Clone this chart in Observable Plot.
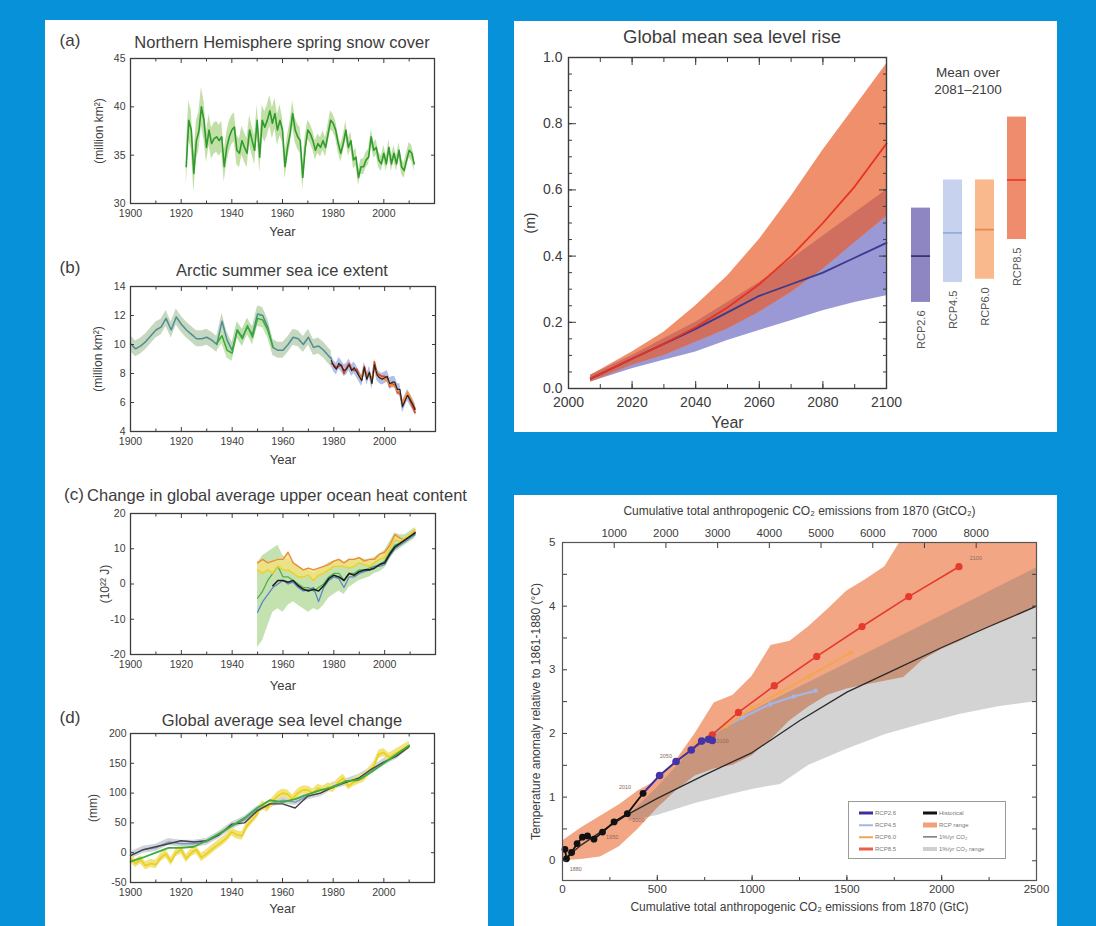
<!DOCTYPE html>
<html><head><meta charset="utf-8">
<script src="https://cdn.jsdelivr.net/npm/d3@7"></script>
<script src="https://cdn.jsdelivr.net/npm/@observablehq/plot@0.6"></script>
<style>
html,body{margin:0;padding:0;}
body{width:1096px;height:926px;background:#0791d9;position:relative;overflow:hidden;font-family:"Liberation Sans",Arial,Helvetica,sans-serif;color:#3c3c3c;}
.panel{position:absolute;background:#fff;}
.t{position:absolute;white-space:nowrap;transform:translate(-50%,-50%);line-height:1;}
.legend{position:absolute;left:848px;top:801px;width:156px;height:56px;border:1px solid #9a9a9a;background:#fff;}
.lg{position:absolute;font-size:6px;color:#777;white-space:nowrap;line-height:1;transform:translate(0,-50%);}
.sw{position:absolute;transform:translate(0,-50%);}
</style></head><body>
<div class="panel" style="left:45px;top:20px;width:443px;height:906px"></div>
<div class="panel" style="left:514px;top:21px;width:543px;height:411px"></div>
<div class="panel" style="left:514px;top:495px;width:543px;height:431px"></div>
<script>
// ---------------- DATA ----------------
// (a) Northern Hemisphere spring snow cover (million km2), 1922-2012
const snowStartYear = 1922;
const snowCover = [
  33.8, 38.6, 37.6, 33.1, 36.5, 37.5, 40.0, 38.6,
  35.8, 37.6, 36.2, 36.7, 36.9, 36.5, 36.9, 33.8, 35.8, 36.9,
  37.6, 37.9, 35.5, 35.2, 36.5, 35.8, 35.2, 37.6, 36.5, 35.5,
  38.6, 34.8, 38.6, 37.9, 38.6, 39.6, 38.3, 39.3, 37.6, 38.6,
  37.6, 33.8, 35.8, 37.2, 39.3, 37.6, 36.9, 36.5, 32.7, 35.8,
  37.6, 37.2, 36.5, 35.5, 36.2, 35.8, 36.5, 35.8, 37.2, 38.6,
  38.3, 37.6, 36.2, 35.2, 36.2, 37.6, 35.8, 36.5, 34.5, 34.8,
  32.7, 33.8, 33.8, 34.5, 34.8, 36.9, 35.5, 35.8, 34.5, 34.1,
  35.2, 34.1, 35.8, 34.1, 35.2, 34.1, 35.5, 33.8, 33.4, 34.5,
  35.5, 35.2, 34.1
];
const snowUncDecade = [1920, 1930, 1940, 1950, 1960, 1970, 1980, 1990, 2000, 2010];
const snowUnc       = [2.0, 1.6, 1.5, 1.6, 1.3, 1.0, 0.9, 0.8, 0.8, 0.8];

// (b) Arctic summer sea ice extent (million km2)
const iceHistYears = [1900,1902,1904,1906,1908,1910,1912,1914,1916,1918,1920,1922,1924,1926,1928,1930,1932,1934,1936,1938,1940,1942,1944,1946,1948,1950,1952,1954,1956,1958,1960,1962,1964,1966,1968,1970,1972,1974,1976,1978,1979];
const iceHist = [10.05,9.7,9.9,10.2,10.6,11.0,11.2,11.8,11.0,11.9,11.4,11.0,10.7,10.4,10.4,10.5,10.3,10.0,11.6,10.3,9.6,11.0,10.5,11.2,10.7,12.1,12.0,11.2,9.8,9.6,9.6,10.0,10.5,10.4,10.0,10.5,9.8,9.9,9.6,9.2,9.0];
const iceHistSpread = 0.55;
const iceGreenYears = [1934,1936,1938,1940,1942,1944,1946,1948,1950,1952,1954,1956];
const iceGreen = [10.1,10.6,9.6,9.4,11.0,10.4,11.3,10.5,11.8,11.7,11.0,9.9];
const iceSatStart = 1979;
const iceSatBlack = [8.9,8.5,8.3,8.7,8.5,8.2,8.3,8.6,8.2,8.4, 8.1,7.8,7.5,8.4,7.6,8.1,7.3,8.6,7.9,7.7, 7.6,7.7,7.8,7.3,7.4,7.4,6.9,6.9,5.7,6.1, 6.5,6.2,5.9,5.5];
const iceSatRed   = [8.7,8.6,8.4,8.5,8.6,8.0,8.4,8.7,8.3,8.2, 8.3,7.9,7.7,8.5,7.8,8.0,7.5,8.8,8.0,7.9, 7.8,7.8,7.7,7.1,7.3,7.2,6.7,6.6,5.9,6.3, 6.6,6.1,5.7,5.3];
const iceOrangeStart = 1990;
const iceSatOrange = [7.9,7.6,8.3,7.7,8.0,7.4,8.5,7.9,7.7,7.7, 7.6,7.5,7.2,7.2,7.1,6.8,6.7,6.0,6.3,6.7, 6.4,6.0,5.6];
const iceSatSpread = 0.4;

// (c) Upper ocean heat content (10^22 J), every 2 years 1950-2012
const ohcStart = 1950;
const ohcOrange = [6,7,6,6.5,7,7,9,6,5,4, 4.5,4,4.5,5,5.5,6.5,7,6,7,7, 7.5,6.5,7,7,8.5,9,11,14,13,12.5, 14,15];
const ohcYellow = [4,3,4,3,5,4,4,3,2,2, 2.5,1,2.5,3,4,5,5,5,4.5,5, 6,5.5,5,6,7,7.5,10,12.5,12,13, 14,15.5];
const ohcBlue   = [-8,-5,-3,-1,0,1,0,0.5,-1,-2, -1.5,-1,-5,-1,1,2,1.5,-1,2,2, 3,3.5,4,5,5,5.5,8,10,11,12, 13,14];
const ohcGreen  = [-4,-2,1,3,5,2,2,1,0,-1, -1,-2,-1,0,2,3,3,1,3,3, 4,4,4.5,5,5.5,6.5,9,11,11.5,12.5, 13.5,14.5];
const ohcGreenLow  = [-18,-16,-12,-8,-7,-8,-6,-5,-6,-7, -8,-7,-7.5,-6,-4,-3,-2,-3,-1,0, 1,1.5,2,3,3.5,4.5,7,9,10,11, 12,13];
const ohcGreenHigh = [6,8,9,10,11,8,7,6,5,4, 4,3,4,5,6,6.5,7,6,7,7, 7.5,7,7,7.5,8.5,9.5,12,14.5,14,14, 15,16];
const ohcBlackStart = 1956;
const ohcBlack = [-0.5,1.0,1.0,0.5,1.0,-0.5,-1.5,-2.0,-1.5,-2.0, -0.5,1.5,2.5,2.0,1.0,3.0,2.5,3.5,4.0,4.0, 4.5,5.5,6.0,8.5,10.5,11.5,12.5,13.5,14.5];

// (d) Global average sea level change (mm)
const slYears = [1900,1905,1910,1915,1920,1925,1930,1935,1940,1945,1950,1955,1960,1965,1970,1975,1980,1985,1990,1995,2000,2005,2010];
const slBlack = [-5,5,10,15,20,18,20,30,48,50,70,82,82,75,95,100,110,118,125,140,152,162,178];
const slGreen = [-15,-8,0,8,8,10,20,32,45,58,75,88,85,90,98,105,110,120,122,135,150,165,180];
const slBlue  = [-5,5,8,18,15,15,18,30,45,55,72,82,88,85,95,100,112,118,125,138,152,163,180];
const slYellowYears = [1900,1902,1904,1906,1908,1910,1912,1914,1916,1918,1920,1922,1924,1926,1928,1930,1932,1934,1936,1938,1940,1942,1944,1946,1948,1950,1952,1954,1956,1958,1960,1962,1964,1966,1968,1970,1972,1974,1976,1978,1980,1982,1984,1986,1988,1990,1992,1994,1996,1998,2000,2002,2004,2006,2008,2010];
const slYellow = [-10,-18,-12,-22,-18,-20,-8,-2,-15,0,5,-10,0,5,-8,-2,5,12,18,25,35,30,28,45,55,65,80,75,85,95,100,98,90,100,105,105,100,108,105,110,108,118,125,112,118,122,125,135,145,165,168,160,165,170,175,180];
const slYellowSpread = 7;
const slBlueSpread = 6;

// Global mean sea level rise projections (m)
const gmslYears = [2007, 2020, 2030, 2040, 2050, 2060, 2070, 2080, 2090, 2100];
const rcp26Mean = [0.03, 0.09, 0.135, 0.18, 0.23, 0.28, 0.315, 0.35, 0.395, 0.44];
const rcp26Low  = [0.02, 0.06, 0.085, 0.11, 0.145, 0.175, 0.205, 0.235, 0.26, 0.28];
const rcp26High = [0.04, 0.10, 0.15, 0.20, 0.26, 0.32, 0.39, 0.46, 0.53, 0.60];
const rcp85Mean = [0.03, 0.09, 0.135, 0.185, 0.245, 0.315, 0.40, 0.50, 0.61, 0.74];
const rcp85Low  = [0.02, 0.07, 0.10, 0.14, 0.18, 0.23, 0.29, 0.36, 0.44, 0.52];
const rcp85High = [0.04, 0.11, 0.17, 0.25, 0.34, 0.45, 0.58, 0.72, 0.85, 0.98];
// Mean over 2081-2100
const scenarioNames = ["RCP2.6", "RCP4.5", "RCP6.0", "RCP8.5"];
const scenarioLow   = [0.26, 0.32, 0.33, 0.45];
const scenarioHigh  = [0.545, 0.63, 0.63, 0.82];
const scenarioMean  = [0.40, 0.47, 0.48, 0.63];
const scenarioFill  = ["#8e86c2", "#c7d3ee", "#f9b98c", "#f08c6e"];
const scenarioLine  = ["#3b3075", "#96acd9", "#e98a52", "#e8402c"];

// Cumulative CO2 emissions (GtC) vs temperature anomaly (°C)
const gtco2PerGtc = 44 / 12;
const gtco2TickLabels = [1000, 2000, 3000, 4000, 5000, 6000, 7000, 8000];
const histGtc  = [13, 21, 48, 77, 105, 132, 166, 211, 272, 342, 425];
const histTemp = [0.18, 0.03, 0.13, 0.27, 0.37, 0.39, 0.34, 0.45, 0.61, 0.74, 1.06];
const r26Gtc  = [425, 512, 599, 679, 734, 771, 790];
const r26Temp = [1.06, 1.34, 1.56, 1.74, 1.88, 1.91, 1.89];
const r45Gtc  = [599, 700, 818, 950, 1095, 1220, 1335];
const r45Temp = [1.56, 1.8, 2.05, 2.25, 2.46, 2.58, 2.67];
const r60Gtc  = [599, 700, 864, 1000, 1150, 1300, 1521];
const r60Temp = [1.56, 1.85, 2.12, 2.4, 2.65, 2.9, 3.27];
const r85Gtc  = [679, 790, 928, 1117, 1341, 1580, 1826, 2091];
const r85Temp = [1.74, 1.98, 2.33, 2.75, 3.21, 3.68, 4.15, 4.62];
const onePctGtc  = [0, 100, 200, 340, 500, 750, 1000, 1250, 1500, 1750, 2000, 2250, 2500];
const onePctTemp = [0, 0.25, 0.45, 0.72, 0.98, 1.35, 1.7, 2.2, 2.65, 3.0, 3.35, 3.68, 4.0];
const rcpRangeGtc  = [0, 100, 200, 300, 400, 500, 600, 700, 800, 900, 1000, 1100, 1200, 1300, 1400, 1500, 1600, 1700, 1800, 1900, 2000, 2100, 2200, 2350, 2500];
const rcpRangeLow  = [0, 0.02, 0.06, 0.22, 0.5, 0.82, 1.1, 1.33, 1.44, 1.5, 1.65, 1.9, 2.2, 2.42, 2.6, 2.7, 2.76, 2.82, 2.88, 3.15, 3.32, 3.45, 3.6, 3.78, 3.98];
const rcpRangeHigh = [0.31, 0.52, 0.7, 0.88, 1.1, 1.26, 1.58, 2.0, 2.48, 2.6, 2.9, 3.38, 3.45, 3.68, 3.95, 4.24, 4.42, 4.62, 5.1, 5.5, 5.7, 5.9, 6.0, 6.0, 6.0];
const pctRangeGtc  = [350, 500, 700, 900, 1000, 1150, 1300, 1500, 1700, 1900, 2100, 2300, 2500];
const pctRangeLow  = [0.62, 0.71, 0.9, 1.05, 1.12, 1.2, 1.5, 1.75, 1.98, 2.15, 2.3, 2.42, 2.5];
const pctRangeHigh = [0.72, 1.15, 1.8, 2.2, 2.35, 2.58, 2.8, 3.1, 3.4, 3.7, 4.0, 4.3, 4.6];
const yearNotes = [
  {t: "1880", x: 70, y: -0.13}, {t: "1950", x: 262, y: 0.37}, {t: "2000", x: 400, y: 0.64},
  {t: "2010", x: 330, y: 1.16}, {t: "2050", x: 545, y: 1.64}, {t: "2100", x: 845, y: 1.88},
  {t: "2100", x: 2180, y: 4.75}
];

// ---------------- HELPERS ----------------
const FONT = '"Liberation Sans", Arial, Helvetica, sans-serif';
const INK = "#3c3c3c";
const fmtInt = d => String(d);

function mount(el, left, top) {
  const d = document.createElement("div");
  d.style.cssText = `position:absolute;left:${left}px;top:${top}px;`;
  d.appendChild(el);
  document.body.appendChild(d);
}
function label(str, x, y, size) {
  const d = document.createElement("div");
  d.className = "t";
  d.style.left = x + "px"; d.style.top = y + "px"; d.style.fontSize = size + "px";
  d.textContent = str;
  document.body.appendChild(d);
}
function tickMarks(k, anchors, ticks, size) {
  const f = k === "x" ? Plot.axisX : Plot.axisY;
  return anchors.map(a => f({ticks, anchor: a, tickSize: -size, tickFormat: () => "", label: null, strokeWidth: 1}));
}
function boxAxes({xLab, yLab, xMaj, xMin, yMaj, yMin, xFmt = fmtInt, yFmt = fmtInt, maj = 4, min = 2.5, fs = 10.5, xPad = 6, yPad = 5}) {
  return [
    ...(xMin ? tickMarks("x", ["bottom", "top"], xMin, min) : []),
    ...tickMarks("x", ["bottom", "top"], xMaj, maj),
    ...(yMin ? tickMarks("y", ["left", "right"], yMin, min) : []),
    ...tickMarks("y", ["left", "right"], yMaj, maj),
    Plot.axisX({ticks: xLab, anchor: "bottom", tickSize: 0, tickPadding: xPad, tickFormat: xFmt, label: null, fontSize: fs}),
    Plot.axisY({ticks: yLab, anchor: "left", tickSize: 0, tickPadding: yPad, tickFormat: yFmt, label: null, fontSize: fs}),
    Plot.frame({stroke: INK, strokeWidth: 1.3})
  ];
}
function axisTitle(str, o) {
  return Plot.text([str], {text: d => d, textAnchor: "middle", lineAnchor: "middle", fill: INK, ...o});
}
const baseStyle = {fontFamily: FONT, fontSize: "10.5px", color: INK, background: "transparent", overflow: "visible"};
const yearTicksLab = [1900, 1920, 1940, 1960, 1980, 2000];
const yearTicksMaj = [1900, 1920, 1940, 1960, 1980, 2000, 2020];
const yearTicksMin = d3.range(1910, 2020, 20);

// ---------------- LEFT PANELS ----------------
label("(a)", 70, 40, 17);
label("Northern Hemisphere spring snow cover", 282, 42, 16.5);
label("(b)", 70, 267, 17);
label("Arctic summer sea ice extent", 282, 270, 16.5);
label("(c)", 74, 494, 17);
label("Change in global average upper ocean heat content", 277, 495, 16.5);
label("(d)", 70, 717, 17);
label("Global average sea level change", 282, 720, 16.5);

// (a)
const snowData = snowCover.map((v, i) => {
  const year = snowStartYear + i;
  const u = snowUnc[snowUncDecade.indexOf(Math.floor(year / 10) * 10)];
  return {year, v, lo: v - u, hi: v + u};
});
mount(Plot.plot({
  width: 442, height: 195, marginLeft: 85, marginRight: 53, marginTop: 8, marginBottom: 42,
  x: {domain: [1900, 2020]}, y: {domain: [30, 45]}, style: baseStyle,
  marks: [
    Plot.areaY(snowData, {x: "year", y1: "lo", y2: "hi", fill: "#c3dfa8"}),
    Plot.line(snowData, {x: "year", y: "v", stroke: "#2f9b2c", strokeWidth: 1.6}),
    ...boxAxes({xLab: yearTicksLab, yLab: [30, 35, 40, 45], xMaj: yearTicksMaj, xMin: yearTicksMin, yMaj: [30, 35, 40, 45]}),
    axisTitle("Year", {frameAnchor: "bottom", dy: 28, fontSize: 13}),
    axisTitle("(million km²)", {frameAnchor: "left", dx: -31, rotate: -90, fontSize: 12})
  ]
}), 45, 50);

// (b)
const iceHistData = iceHistYears.map((year, i) => ({year, v: iceHist[i]}));
const iceGreenData = iceGreenYears.map((year, i) => ({year, v: iceGreen[i]}));
const iceSatData = iceSatBlack.map((v, i) => ({year: iceSatStart + i, v, r: iceSatRed[i]}));
const iceOrangeData = iceSatOrange.map((v, i) => ({year: iceOrangeStart + i, v}));
mount(Plot.plot({
  width: 442, height: 195, marginLeft: 85, marginRight: 52, marginTop: 8, marginBottom: 42,
  x: {domain: [1900, 2020]}, y: {domain: [4, 14]}, style: baseStyle,
  marks: [
    Plot.areaY(iceHistData, {x: "year", y1: d => d.v - iceHistSpread, y2: d => d.v + iceHistSpread, fill: "#c6d9c0"}),
    Plot.areaY(iceGreenData, {x: "year", y1: d => d.v - iceHistSpread, y2: d => d.v + iceHistSpread, fill: "#b7e0a0", fillOpacity: 0.8}),
    Plot.areaY(iceSatData, {x: "year", y1: d => d.v - iceSatSpread, y2: d => d.v + iceSatSpread, fill: "#b4bfe6"}),
    Plot.line(iceHistData, {x: "year", y: "v", stroke: "#4f8c98", strokeWidth: 1.5}),
    Plot.line(iceGreenData, {x: "year", y: "v", stroke: "#38aa35", strokeWidth: 1.5}),
    Plot.line(iceSatData, {x: "year", y: "r", stroke: "#e0401e", strokeWidth: 1.6}),
    Plot.line(iceOrangeData, {x: "year", y: "v", stroke: "#f29030", strokeWidth: 1.6}),
    Plot.line(iceSatData, {x: "year", y: "v", stroke: "#222", strokeWidth: 1.2}),
    ...boxAxes({xLab: yearTicksLab, yLab: [4, 6, 8, 10, 12, 14], xMaj: yearTicksMaj, xMin: yearTicksMin, yMaj: [4, 6, 8, 10, 12, 14]}),
    axisTitle("Year", {frameAnchor: "bottom", dy: 28, fontSize: 13}),
    axisTitle("(million km²)", {frameAnchor: "left", dx: -32, rotate: -90, fontSize: 12})
  ]
}), 45, 278);

// (c)
const ohcData = ohcOrange.map((v, i) => ({
  year: ohcStart + 2 * i, o: v, y: ohcYellow[i], b: ohcBlue[i], g: ohcGreen[i], lo: ohcGreenLow[i], hi: ohcGreenHigh[i]
}));
const ohcBlackData = ohcBlack.map((v, i) => ({year: ohcBlackStart + 2 * i, v}));
mount(Plot.plot({
  width: 442, height: 191, marginLeft: 85, marginRight: 52, marginTop: 8, marginBottom: 42,
  x: {domain: [1900, 2020]}, y: {domain: [-20, 20]}, style: baseStyle,
  marks: [
    Plot.areaY(ohcData, {x: "year", y1: "lo", y2: "hi", fill: "#c4e2b0"}),
    Plot.areaY(ohcData, {x: "year", y1: "y", y2: "o", fill: "#f7e17a", fillOpacity: 0.75}),
    Plot.line(ohcData, {x: "year", y: "g", stroke: "#4fb04a", strokeWidth: 1.3}),
    Plot.line(ohcData, {x: "year", y: "b", stroke: "#5b86c6", strokeWidth: 1.3}),
    Plot.line(ohcData, {x: "year", y: "o", stroke: "#f08a3a", strokeWidth: 1.4}),
    Plot.line(ohcData, {x: "year", y: "y", stroke: "#f2cf22", strokeWidth: 1.4}),
    Plot.line(ohcBlackData, {x: "year", y: "v", stroke: "#1e1e1e", strokeWidth: 1.6}),
    ...boxAxes({xLab: yearTicksLab, yLab: [-20, -10, 0, 10, 20], xMaj: yearTicksMaj, xMin: yearTicksMin, yMaj: [-20, -10, 0, 10, 20]}),
    axisTitle("Year", {frameAnchor: "bottom", dy: 31, fontSize: 13}),
    axisTitle("(10²² J)", {frameAnchor: "left", dx: -25, rotate: -90, fontSize: 12})
  ]
}), 45, 505);

// (d)
const slData = slYears.map((year, i) => ({year, k: slBlack[i], g: slGreen[i], b: slBlue[i]}));
const slYellowData = slYellowYears.map((year, i) => ({year, v: slYellow[i]}));
mount(Plot.plot({
  width: 442, height: 199, marginLeft: 85, marginRight: 53, marginTop: 8, marginBottom: 42,
  x: {domain: [1900, 2020]}, y: {domain: [-50, 200]}, style: baseStyle,
  marks: [
    Plot.areaY(slData, {x: "year", y1: d => d.b - slBlueSpread, y2: d => d.b + slBlueSpread, fill: "#cfd3dc"}),
    Plot.areaY(slYellowData, {x: "year", y1: d => d.v - slYellowSpread, y2: d => d.v + slYellowSpread, fill: "#f3e37c"}),
    Plot.line(slYellowData, {x: "year", y: "v", stroke: "#e9cf1c", strokeWidth: 1.6}),
    Plot.line(slData, {x: "year", y: "b", stroke: "#7f96c8", strokeWidth: 1.3}),
    Plot.line(slData, {x: "year", y: "k", stroke: "#444", strokeWidth: 1.4}),
    Plot.line(slData, {x: "year", y: "g", stroke: "#3cae3a", strokeWidth: 1.8}),
    ...boxAxes({xLab: yearTicksLab, yLab: [-50, 0, 50, 100, 150, 200], xMaj: yearTicksMaj, xMin: yearTicksMin, yMaj: [-50, 0, 50, 100, 150, 200], yPad: 4}),
    axisTitle("Year", {frameAnchor: "bottom", dy: 26, fontSize: 13}),
    axisTitle("(mm)", {frameAnchor: "left", dx: -37, rotate: -90, fontSize: 12})
  ]
}), 45, 725);

// ---------------- GLOBAL MEAN SEA LEVEL RISE ----------------
label("Global mean sea level rise", 732, 37, 18.5);
const gmsl = gmslYears.map((year, i) => ({
  year, m26: rcp26Mean[i], lo26: rcp26Low[i], hi26: rcp26High[i],
  m85: rcp85Mean[i], lo85: rcp85Low[i], hi85: rcp85High[i],
  olo: Math.max(rcp26Low[i], rcp85Low[i]), ohi: Math.min(rcp26High[i], rcp85High[i])
}));
mount(Plot.plot({
  width: 543, height: 411, marginLeft: 54, marginRight: 171, marginTop: 36, marginBottom: 44,
  x: {domain: [2000, 2100]}, y: {domain: [0, 1]}, style: {...baseStyle, fontSize: "14px"},
  marks: [
    Plot.areaY(gmsl, {x: "year", y1: "lo26", y2: "hi26", fill: "#9b98d6"}),
    Plot.areaY(gmsl, {x: "year", y1: "lo85", y2: "hi85", fill: "#f08f6c"}),
    Plot.areaY(gmsl, {x: "year", y1: "olo", y2: "ohi", fill: "#d06e60"}),
    Plot.line(gmsl, {x: "year", y: "m26", stroke: "#3a3a8e", strokeWidth: 1.8}),
    Plot.line(gmsl, {x: "year", y: "m85", stroke: "#e8321f", strokeWidth: 1.8}),
    ...tickMarks("x", ["bottom", "top"], d3.range(2000, 2101, 10), 4),
    ...tickMarks("x", ["bottom", "top"], d3.range(2000, 2101, 20), 7),
    ...tickMarks("y", ["left", "right"], d3.range(0, 1.001, 0.05), 4),
    ...tickMarks("y", ["left", "right"], [0, 0.2, 0.4, 0.6, 0.8, 1.0], 8),
    Plot.axisX({ticks: [2000, 2020, 2040, 2060, 2080, 2100], anchor: "bottom", tickSize: 0, tickPadding: 9, tickFormat: fmtInt, label: null, fontSize: 14}),
    Plot.axisY({ticks: [0, 0.2, 0.4, 0.6, 0.8, 1.0], anchor: "left", tickSize: 0, tickPadding: 6, tickFormat: d3.format(".1f"), label: null, fontSize: 14}),
    Plot.frame({stroke: INK, strokeWidth: 1.4}),
    axisTitle("Year", {frameAnchor: "bottom", dy: 34, fontSize: 16}),
    axisTitle("(m)", {frameAnchor: "left", dx: -38, rotate: -90, fontSize: 14})
  ]
}), 514, 21);

label("Mean over", 968, 73, 13.5);
label("2081–2100", 968, 90, 13.5);
const scen = scenarioNames.map((name, i) => ({name, lo: scenarioLow[i], hi: scenarioHigh[i], m: scenarioMean[i], fill: scenarioFill[i], line: scenarioLine[i]}));
mount(Plot.plot({
  width: 140, height: 411, marginLeft: 4, marginRight: 7, marginTop: 36, marginBottom: 44,
  x: {domain: scenarioNames, paddingInner: 0.41, paddingOuter: 0.2, axis: null},
  y: {domain: [0, 1], axis: null}, style: baseStyle,
  marks: [
    Plot.barY(scen, {x: "name", y1: "lo", y2: "hi", fill: d => d.fill}),
    Plot.tickY(scen, {x: "name", y: "m", stroke: d => d.line, strokeWidth: 1.8}),
    Plot.text(scen, {x: "name", y: "lo", text: "name", rotate: -90, textAnchor: "end", dy: 8, fontSize: 11, fill: "#555"})
  ]
}), 900, 21);

// ---------------- CUMULATIVE CO2 vs TEMPERATURE ----------------
const toXY = (xs, ys) => xs.map((x, i) => ({x, y: ys[i]}));
const rangeData = rcpRangeGtc.map((x, i) => ({x, lo: rcpRangeLow[i], hi: rcpRangeHigh[i]}));
const pctData = pctRangeGtc.map((x, i) => ({x, lo: pctRangeLow[i], hi: pctRangeHigh[i]}));
const hist = toXY(histGtc, histTemp), r26 = toXY(r26Gtc, r26Temp), r45 = toXY(r45Gtc, r45Temp);
const r60 = toXY(r60Gtc, r60Temp), r85 = toXY(r85Gtc, r85Temp), pct = toXY(onePctGtc, onePctTemp);
mount(Plot.plot({
  width: 543, height: 431, marginLeft: 48, marginRight: 21, marginTop: 47, marginBottom: 46,
  x: {domain: [0, 2500]}, y: {domain: [-0.31, 5]}, style: {...baseStyle, fontSize: "11.5px"},
  marks: [
    Plot.areaY(rangeData, {x: "x", y1: "lo", y2: "hi", fill: "#f3a684", clip: true}),
    Plot.areaY(pctData, {x: "x", y1: "lo", y2: "hi", fill: "#6e6e6e", fillOpacity: 0.3, clip: true}),
    Plot.line(pct, {x: "x", y: "y", stroke: "#2a2a2a", strokeWidth: 1.3}),
    Plot.line(r45, {x: "x", y: "y", stroke: "#a3b6e6", strokeWidth: 2.2}),
    Plot.dot(r45, {x: "x", y: "y", r: 2.2, fill: "#a3b6e6"}),
    Plot.line(r60, {x: "x", y: "y", stroke: "#f3a652", strokeWidth: 2}),
    Plot.dot(r60, {x: "x", y: "y", r: 2.2, fill: "#f3a652"}),
    Plot.line(r85, {x: "x", y: "y", stroke: "#e63a2c", strokeWidth: 1.6}),
    Plot.dot(r85.slice(1), {x: "x", y: "y", r: 3.6, fill: "#e63a2c"}),
    Plot.line(r26, {x: "x", y: "y", stroke: "#3d2fa0", strokeWidth: 2}),
    Plot.dot(r26.slice(1), {x: "x", y: "y", r: 3.8, fill: "#4534a8"}),
    Plot.line(hist, {x: "x", y: "y", stroke: "#111", strokeWidth: 1.8}),
    Plot.dot(hist, {x: "x", y: "y", r: 3.4, fill: "#111"}),
    Plot.text(yearNotes, {x: "x", y: "y", text: "t", fontSize: 5.5, fill: "#8a6a60"}),
    ...tickMarks("x", ["bottom"], d3.range(0, 2501, 250), 3),
    ...tickMarks("x", ["bottom"], d3.range(0, 2501, 500), 5),
    ...tickMarks("x", ["top"], gtco2TickLabels.map(v => v / gtco2PerGtc), 5),
    ...tickMarks("y", ["left", "right"], d3.range(0, 5.01, 0.5), 5),
    Plot.axisX({ticks: d3.range(0, 2501, 500), anchor: "bottom", tickSize: 0, tickPadding: 4, tickFormat: fmtInt, label: null, fontSize: 11.5}),
    Plot.axisX({ticks: gtco2TickLabels.map(v => v / gtco2PerGtc), anchor: "top", tickSize: 0, tickPadding: 6, tickFormat: v => String(Math.round(v * gtco2PerGtc)), label: null, fontSize: 11.5}),
    Plot.axisY({ticks: [0, 1, 2, 3, 4, 5], anchor: "left", tickSize: 0, tickPadding: 7, tickFormat: fmtInt, label: null, fontSize: 11.5}),
    Plot.frame({stroke: "#555", strokeWidth: 1.2}),
    axisTitle("Cumulative total anthropogenic CO₂ emissions from 1870 (GtC)", {frameAnchor: "bottom", dy: 27, fontSize: 12}),
    axisTitle("Cumulative total anthropogenic CO₂ emissions from 1870 (GtCO₂)", {frameAnchor: "top", dy: -31, fontSize: 12}),
    axisTitle("Temperature anomaly relative to 1861-1880 (°C)", {frameAnchor: "left", dx: -26, rotate: -90, fontSize: 12})
  ]
}), 514, 495);

// legend
const legendItems = [
  {name: "RCP2.6", color: "#3d2fa0", w: 3, col: 0, row: 0},
  {name: "RCP4.5", color: "#a3b6e6", w: 1.5, col: 0, row: 1},
  {name: "RCP6.0", color: "#f3a652", w: 1.5, col: 0, row: 2},
  {name: "RCP8.5", color: "#e8604a", w: 3, col: 0, row: 3},
  {name: "Historical", color: "#111", w: 3, col: 1, row: 0},
  {name: "RCP range", color: "#f2a07c", w: 5, col: 1, row: 1},
  {name: "1%/yr CO₂", color: "#333", w: 1.2, col: 1, row: 2},
  {name: "1%/yr CO₂ range", color: "#cfcfcf", w: 4, col: 1, row: 3}
];
const lg = document.createElement("div");
lg.className = "legend";
for (const it of legendItems) {
  const y = 11 + it.row * 12, x = 10 + it.col * 64;
  const sw = document.createElement("div");
  sw.className = "sw";
  sw.style.cssText += `left:${x}px;top:${y}px;width:14px;height:${it.w}px;background:${it.color};`;
  const tx = document.createElement("div");
  tx.className = "lg";
  tx.style.left = (x + 16) + "px"; tx.style.top = y + "px";
  tx.textContent = it.name;
  lg.appendChild(sw); lg.appendChild(tx);
}
document.body.appendChild(lg);
</script>
</body></html>
